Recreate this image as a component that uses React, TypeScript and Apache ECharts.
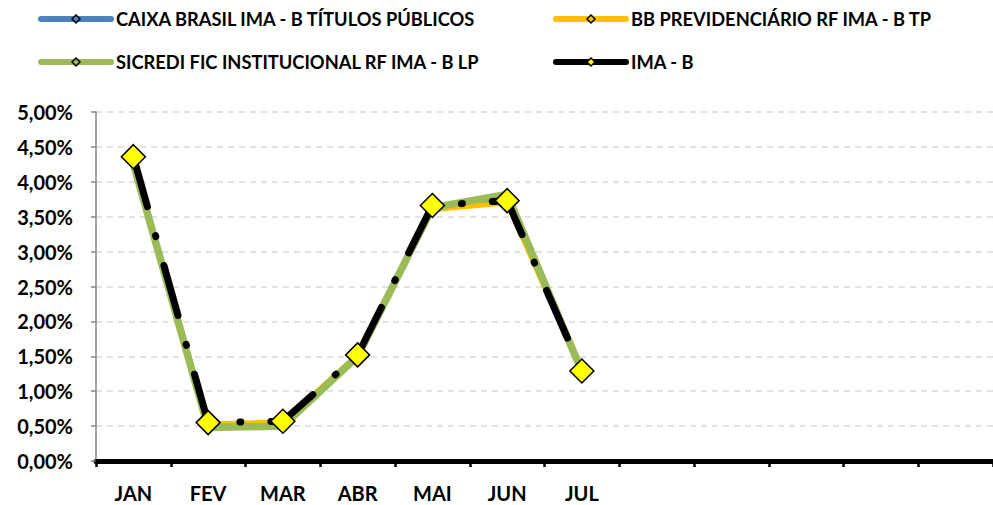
import React, { useEffect, useRef } from 'react';
import * as echarts from 'echarts';

const months = ['JAN', 'FEV', 'MAR', 'ABR', 'MAI', 'JUN', 'JUL', '', '', '', '', ''];
const caixa = [4.29, 0.52, 0.55, 1.51, 3.61, 3.72, 1.28];
const bb = [4.3, 0.53, 0.56, 1.52, 3.6, 3.7, 1.27];
const sicredi = [4.26, 0.48, 0.5, 1.5, 3.63, 3.82, 1.28];
const imab = [4.36, 0.55, 0.57, 1.52, 3.66, 3.73, 1.29];

const names = [
  'CAIXA BRASIL IMA - B TÍTULOS PÚBLICOS',
  'BB PREVIDENCIÁRIO RF IMA - B TP',
  'SICREDI FIC INSTITUCIONAL RF IMA - B LP',
  'IMA - B',
];

const FONT = 'Lato';

export default function App() {
  const ref = useRef<HTMLDivElement>(null);
  useEffect(() => {
    const chart = echarts.init(ref.current!, null, { renderer: 'svg' });
    const legendText = { fontFamily: FONT, fontWeight: 'bold' as const, fontSize: 18.3, color: '#000' };
    const small = (name: string, data: number[], color: string, width: number) => ({
      name,
      type: 'line',
      data,
      symbol: 'diamond',
      symbolSize: 8,
      itemStyle: { color, borderColor: '#000', borderWidth: 1.5 },
      lineStyle: { color, width, cap: 'round', join: 'round' },
    });
    const legendBase = {
      orient: 'vertical',
      top: 10,
      padding: 0,
      itemWidth: 70,
      itemHeight: 10,
      itemGap: 25,
      textStyle: legendText,
      lineStyle: { type: 'solid', width: 6, cap: 'round' },
      itemStyle: { borderColor: '#000', borderWidth: 1.5 },
    };
    chart.setOption({
      animation: false,
      backgroundColor: '#fff',
      legend: [
        { ...legendBase, data: [names[0], names[2]], left: 38 },
        { ...legendBase, data: [names[1], names[3]], left: 553 },
      ],
      grid: { left: 96, top: 112, width: 900, height: 349, containLabel: false },
      xAxis: {
        type: 'category',
        data: months,
        boundaryGap: true,
        axisLine: { lineStyle: { color: '#000', width: 5 } },
        axisTick: { show: true, length: 6, lineStyle: { color: '#000', width: 2.5 } },
        axisLabel: {
          fontFamily: FONT,
          fontWeight: 'bold',
          fontSize: 20,
          lineHeight: 20,
          color: '#000',
          margin: 22,
          interval: 0,
        },
      },
      yAxis: {
        type: 'value',
        min: 0,
        max: 5,
        interval: 0.5,
        axisLine: { show: true, lineStyle: { color: '#868686', width: 1.5 } },
        axisTick: { show: true, length: 5, lineStyle: { color: '#868686', width: 1.5 } },
        splitLine: { lineStyle: { color: '#d9d9d9', width: 1.5, type: [6, 5] } },
        axisLabel: {
          fontFamily: FONT,
          fontWeight: 'bold',
          fontSize: 20,
          color: '#000',
          margin: 23,
          formatter: (v: number) => v.toFixed(2).replace('.', ',') + '%',
        },
      },
      series: [
        small(names[0], caixa, '#4f81bd', 5),
        small(names[1], bb, '#ffc000', 5),
        small(names[2], sicredi, '#9bbb59', 7.5),
        {
          name: names[3],
          type: 'line',
          data: imab,
          symbol: 'diamond',
          symbolSize: 24,
          z: 5,
          itemStyle: { color: '#ffff00', borderColor: '#000', borderWidth: 1.5 },
          lineStyle: { color: '#000', width: 7, type: [52, 30, 1, 30], cap: 'round', join: 'round' },
        },
      ],
    });
    return () => chart.dispose();
  }, []);
  return <div ref={ref} style={{ position: 'fixed', left: 0, top: 0, width: 993, height: 505 }} />;
}
